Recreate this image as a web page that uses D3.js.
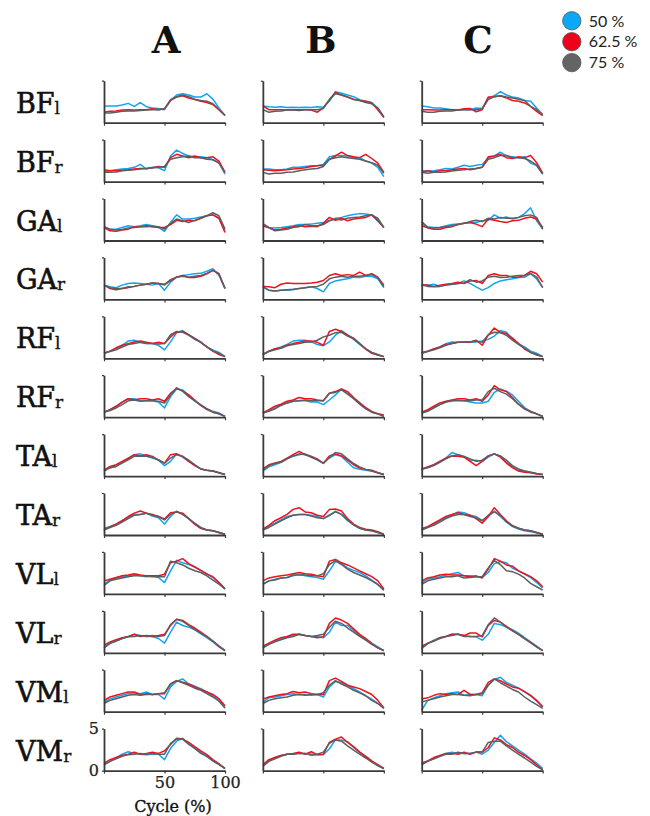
<!DOCTYPE html>
<html>
<head>
<meta charset="utf-8">
<script src="https://cdn.jsdelivr.net/npm/d3@7"></script>
<style>
  body { margin: 0; background: #fff; }
  svg { display: block; }
</style>
</head>
<body>
<svg class="chart"></svg>
<script>
// Gait cycle (%) sampled every 5 %
const cycle = d3.range(0, 101, 5);
const columns = ["A", "B", "C"];
const speeds = ["50 %", "62.5 %", "75 %"];
const muscles = [["BF", "l"], ["BF", "r"], ["GA", "l"], ["GA", "r"], ["RF", "l"], ["RF", "r"],
                 ["TA", "l"], ["TA", "r"], ["VL", "l"], ["VL", "r"], ["VM", "l"], ["VM", "r"]];
const yTicks = [0, 5];
const xTicks = [0, 50, 100];

// each muscle: columns A, B, C; each column: 50 %, 62.5 %, 75 %
const BFl = [
  [[2.0,2.0,2.0,2.1,2.3,1.95,2.4,1.9,1.75,1.7,1.55,2.65,3.3,3.45,3.3,3.05,3.05,3.45,2.8,1.75,0.85],
   [1.25,1.35,1.4,1.5,1.55,1.5,1.55,1.55,1.65,1.55,1.65,2.65,3.05,3.2,2.95,2.75,2.55,2.4,2.15,1.55,0.85],
   [1.15,1.15,1.25,1.35,1.4,1.4,1.45,1.5,1.55,1.55,1.65,2.75,3.1,3.3,3.1,2.8,2.65,2.55,2.25,1.55,0.85]],
  [[2.0,1.9,1.85,1.9,1.8,1.85,1.8,1.85,1.8,1.9,1.85,2.55,3.7,3.5,3.3,3.1,2.75,2.55,2.4,1.75,0.7],
   [2.0,1.55,1.55,1.55,1.5,1.55,1.55,1.55,1.5,1.25,1.75,2.75,3.6,3.3,3.05,2.8,2.65,2.55,2.35,1.55,0.6],
   [1.55,1.25,1.35,1.4,1.5,1.5,1.45,1.55,1.55,1.55,1.7,2.75,3.45,3.3,3.05,2.75,2.65,2.4,2.25,1.75,0.7]],
  [[2.0,1.9,1.75,1.75,1.65,1.55,1.55,1.55,1.55,1.75,1.7,2.95,3.2,3.7,3.3,3.05,2.95,2.65,2.55,1.75,0.95],
   [1.55,1.55,1.5,1.5,1.55,1.55,1.5,1.65,1.7,1.3,1.55,3.05,3.1,3.2,2.95,2.65,2.55,2.35,1.95,1.35,0.85],
   [1.35,1.25,1.25,1.35,1.4,1.4,1.5,1.55,1.55,1.55,1.65,2.75,3.1,3.2,3.05,2.95,2.8,2.65,1.95,1.55,0.95]]
];
const BFr = [
  [[1.1,1.3,1.4,1.5,1.55,1.7,2.05,1.5,1.7,1.65,1.3,3.05,3.75,3.35,3.05,2.95,2.95,2.85,2.6,2.25,0.9],
   [1.4,1.3,1.3,1.35,1.4,1.5,1.55,1.55,1.65,1.8,1.7,2.85,3.25,3.05,2.85,3.05,2.85,2.85,2.95,2.45,1.1],
   [1.1,1.1,1.15,1.3,1.35,1.4,1.5,1.55,1.65,1.7,1.8,2.65,2.85,2.95,3.05,2.85,2.85,2.65,2.6,2.2,1.1]],
  [[1.5,1.5,1.4,1.4,1.5,1.7,1.7,1.8,1.9,1.9,2.05,2.95,3.1,3.1,3.05,2.85,2.85,2.45,2.2,1.7,0.6],
   [1.4,1.35,1.3,1.35,1.4,1.5,1.55,1.65,1.8,1.9,1.95,2.65,3.05,3.5,3.1,2.95,2.85,3.25,2.75,2.2,1.1],
   [1.1,0.9,1.0,1.0,1.1,1.15,1.3,1.4,1.5,1.55,1.8,2.65,2.85,2.95,2.85,2.75,2.65,2.45,2.25,1.95,1.0]],
  [[1.3,1.25,1.3,1.4,1.55,1.5,1.7,1.95,1.8,1.95,2.05,2.85,3.05,3.5,3.05,2.95,2.85,2.95,2.2,1.9,0.9],
   [1.1,1.3,1.15,1.3,1.3,1.4,1.5,1.55,1.4,1.55,1.7,2.95,3.05,3.25,2.85,2.75,2.95,2.85,3.1,2.25,1.0],
   [1.1,1.0,1.1,1.1,1.15,1.25,1.35,1.4,1.5,1.55,1.7,2.65,2.85,3.1,3.1,2.85,2.85,2.75,2.45,1.95,0.9]]
];
const GAl = [
  [[1.55,1.35,1.35,1.55,1.75,1.65,1.75,1.9,1.75,1.55,1.1,2.15,3.05,2.55,2.55,2.65,2.8,2.95,3.05,2.65,1.15],
   [1.55,1.15,1.1,1.25,1.35,1.65,1.65,1.75,1.65,1.55,1.55,1.9,2.4,2.25,2.4,2.35,2.65,2.95,3.05,2.65,0.95],
   [1.65,1.35,1.25,1.3,1.5,1.55,1.65,1.65,1.7,1.65,1.35,2.05,2.55,2.35,2.15,2.4,2.65,2.95,3.3,2.95,1.35]],
  [[1.75,1.55,1.5,1.55,1.65,1.75,1.9,1.9,1.95,2.05,2.15,2.4,2.65,2.75,2.95,3.1,3.2,3.15,3.05,2.3,1.55],
   [1.75,1.5,1.25,1.35,1.5,1.65,1.75,1.65,1.7,1.65,2.05,2.75,2.4,2.65,2.35,2.55,2.65,2.75,3.05,2.4,1.55],
   [2.0,1.55,1.15,1.25,1.35,1.55,1.65,1.9,1.75,1.75,1.9,2.35,2.55,2.45,2.65,2.75,2.8,2.95,3.05,2.65,1.55]],
  [[1.95,1.65,1.55,1.55,1.75,1.9,1.95,2.05,2.15,2.15,2.35,2.4,3.05,2.65,2.8,2.55,2.75,3.2,3.9,2.35,1.35],
   [1.75,1.5,1.35,1.35,1.55,1.65,1.9,2.05,2.15,1.95,1.65,2.55,2.4,2.25,2.15,2.35,2.4,2.65,2.8,2.55,1.55],
   [2.25,1.55,1.5,1.55,1.65,1.75,1.9,2.05,2.25,2.4,2.25,2.65,2.55,2.75,2.65,2.65,2.75,2.95,3.05,2.75,1.35]]
];
const GAr = [
  [[1.7,1.5,1.4,1.7,1.9,1.95,1.9,1.8,1.7,1.9,1.1,2.05,2.65,2.85,2.95,3.05,3.1,3.35,3.65,2.85,1.3],
   [1.7,1.3,1.15,1.3,1.4,1.55,1.7,1.8,1.95,1.9,1.8,2.2,2.65,2.85,2.6,2.6,2.75,3.05,3.45,3.05,1.3],
   [1.7,1.4,1.3,1.3,1.5,1.55,1.7,1.8,1.95,1.9,1.7,2.35,2.65,2.75,2.65,2.75,2.85,3.1,3.45,3.05,1.3]],
  [[1.5,1.1,1.0,1.1,1.1,1.15,1.3,1.4,1.5,1.3,0.9,1.9,2.2,2.35,2.45,2.65,2.6,2.75,2.75,2.45,1.4],
   [1.55,1.5,1.4,1.8,1.95,1.9,1.9,1.9,1.95,2.05,2.25,2.85,3.05,2.85,2.95,2.85,3.25,2.85,3.05,2.65,1.7],
   [1.5,1.1,1.0,1.1,1.15,1.2,1.3,1.4,1.5,1.55,1.8,2.45,2.65,2.75,2.65,2.75,2.75,2.85,2.95,2.6,1.5]],
  [[1.7,1.7,1.8,1.55,1.7,1.8,1.9,2.2,1.9,1.5,1.1,1.4,1.9,2.2,2.35,2.45,2.6,2.65,3.05,2.45,1.4],
   [1.7,1.7,1.55,1.7,1.8,1.9,2.05,1.9,2.2,2.25,1.9,2.85,3.05,2.85,2.85,2.65,2.65,2.85,3.35,3.05,2.05],
   [1.7,1.55,1.5,1.55,1.7,1.8,1.9,1.95,2.35,2.05,2.2,2.65,2.75,2.6,2.65,2.75,2.85,2.85,3.1,2.65,1.4]]
];
const RFl = [
  [[0.6,0.85,1.15,1.55,2.05,2.15,1.9,1.75,1.75,1.55,1.0,1.95,3.05,3.3,2.8,2.4,1.95,1.35,1.0,0.7,0.2],
   [0.6,0.85,1.25,1.55,1.75,1.95,2.05,1.9,1.75,1.9,1.75,2.55,3.1,3.2,2.8,2.35,1.9,1.35,0.85,0.45,0.2],
   [0.6,0.8,1.0,1.35,1.65,1.75,1.9,1.75,1.75,1.7,1.75,2.8,3.2,3.1,2.75,2.25,1.9,1.35,0.85,0.6,0.2]],
  [[0.45,0.85,1.1,1.35,1.65,2.05,2.15,2.15,1.95,1.65,1.5,1.95,2.75,3.3,2.8,2.25,1.65,1.1,0.7,0.4,0.2],
   [0.45,0.85,1.15,1.25,1.55,1.75,1.9,2.05,2.05,1.9,1.55,3.2,3.45,3.2,2.75,2.4,1.75,1.1,0.6,0.4,0.2],
   [0.45,0.8,1.0,1.2,1.5,1.65,1.75,1.9,1.95,2.15,2.55,2.75,3.05,3.1,2.65,2.35,1.75,1.15,0.7,0.45,0.2]],
  [[0.6,0.85,1.1,1.35,1.75,1.95,1.9,1.95,1.9,1.95,2.05,2.25,2.65,3.3,3.1,2.25,1.75,1.35,0.85,0.6,0.2],
   [0.7,0.85,1.1,1.35,1.65,1.75,1.9,1.95,1.95,2.15,1.55,2.75,3.6,3.1,2.95,2.4,1.75,1.1,0.7,0.4,0.2],
   [0.6,0.8,1.0,1.25,1.55,1.75,1.9,1.95,1.95,2.05,1.9,2.8,3.1,3.05,2.75,2.15,1.65,1.2,0.7,0.45,0.2]]
];
const RFr = [
  [[0.6,0.9,1.3,1.8,2.2,2.2,1.95,1.95,1.95,1.8,1.1,2.45,3.35,3.25,2.6,1.95,1.5,1.0,0.7,0.5,0.1],
   [0.6,0.9,1.3,1.8,2.2,2.05,2.2,2.2,2.05,2.2,1.9,2.85,3.45,3.1,2.65,2.05,1.4,1.0,0.6,0.4,0.1],
   [0.6,0.8,1.1,1.5,1.95,2.05,1.9,1.95,1.95,1.9,1.7,2.6,3.5,3.1,2.45,1.95,1.4,0.9,0.6,0.4,0.1]],
  [[0.5,0.8,1.1,1.5,1.7,1.9,1.95,1.95,1.8,1.8,1.5,2.05,2.65,3.35,2.85,2.25,1.7,1.1,0.6,0.4,0.1],
   [0.5,0.9,1.3,1.55,1.9,2.05,2.35,2.2,2.2,2.05,1.95,2.85,3.05,3.35,3.05,2.35,1.7,1.15,0.7,0.4,0.25],
   [0.5,0.7,1.0,1.4,1.7,1.9,1.95,2.05,1.95,1.95,1.95,2.85,2.95,3.25,2.75,2.2,1.55,1.0,0.6,0.4,0.1]],
  [[0.5,0.8,1.1,1.5,1.8,1.95,2.05,1.95,1.8,1.7,1.7,1.9,2.95,3.35,3.1,2.65,1.9,1.15,0.7,0.4,0.1],
   [0.6,0.9,1.3,1.7,1.9,2.05,2.2,2.2,2.05,2.2,1.9,2.65,3.75,3.25,3.05,2.35,1.55,1.0,0.7,0.4,0.1],
   [0.5,0.7,1.1,1.5,1.8,1.95,1.95,1.95,1.95,2.05,2.05,3.05,3.45,3.05,2.75,2.2,1.55,1.0,0.6,0.4,0.1]]
];
const TAl = [
  [[0.6,1.0,1.15,1.65,2.05,2.55,2.65,2.4,2.15,1.9,1.25,1.75,2.65,2.25,1.75,1.35,0.85,0.7,0.6,0.4,0.2],
   [0.7,1.15,1.35,1.75,2.15,2.55,2.4,2.55,2.35,1.9,1.55,2.55,2.65,2.35,1.75,1.25,0.85,0.7,0.6,0.4,0.2],
   [0.6,1.0,1.15,1.55,1.95,2.35,2.4,2.35,2.25,1.95,1.55,2.15,2.55,2.35,1.9,1.35,0.85,0.7,0.6,0.4,0.2]],
  [[0.6,1.1,1.35,1.65,2.05,2.35,2.55,2.65,2.35,1.95,1.55,2.15,2.55,2.35,1.65,1.0,0.8,0.7,0.6,0.4,0.2],
   [0.85,1.35,1.55,1.75,2.15,2.55,2.95,2.55,2.35,2.05,1.5,2.4,2.65,2.4,1.9,1.35,0.95,0.8,0.7,0.4,0.2],
   [0.7,1.25,1.5,1.65,2.05,2.4,2.65,2.55,2.25,1.95,1.55,2.25,2.8,2.65,2.05,1.5,1.1,0.8,0.6,0.4,0.2]],
  [[0.8,1.1,1.35,1.75,2.15,2.8,2.55,2.35,1.9,1.9,1.75,2.25,2.65,2.35,1.65,1.1,0.7,0.6,0.45,0.3,0.2],
   [0.85,1.1,1.35,1.75,2.15,2.4,2.35,2.25,1.75,1.25,1.75,2.4,2.65,2.25,1.55,1.0,0.6,0.45,0.4,0.25,0.2],
   [0.8,1.0,1.25,1.65,2.05,2.4,2.55,2.35,2.05,1.75,1.9,2.4,2.65,2.4,1.9,1.25,0.85,0.6,0.45,0.3,0.2]]
];
const TAr = [
  [[0.8,1.0,1.3,1.7,2.05,2.45,2.45,2.6,2.25,2.05,1.3,2.2,2.85,2.45,1.95,1.3,0.8,0.6,0.5,0.3,0.1],
   [0.6,1.0,1.3,1.7,2.2,2.6,2.85,2.6,2.45,2.2,1.9,2.65,2.75,2.6,1.95,1.3,0.8,0.6,0.5,0.3,0.1],
   [0.6,0.9,1.15,1.55,1.95,2.35,2.45,2.6,2.35,2.2,1.8,2.45,2.75,2.45,1.95,1.4,0.9,0.6,0.5,0.3,0.1]],
  [[0.6,1.1,1.4,1.8,2.2,2.35,2.45,2.45,2.35,2.2,1.95,2.35,2.85,2.45,1.7,1.2,0.8,0.6,0.5,0.3,0.1],
   [0.7,1.15,1.7,2.05,2.45,3.05,3.25,2.75,2.65,2.35,2.2,3.05,3.1,2.85,1.95,1.3,0.9,0.7,0.6,0.4,0.1],
   [0.6,0.9,1.3,1.7,2.05,2.35,2.45,2.45,2.25,2.05,1.95,2.35,2.75,2.45,1.8,1.2,0.8,0.6,0.5,0.3,0.1]],
  [[0.8,1.0,1.3,1.7,2.05,2.35,2.75,2.65,2.35,2.2,1.7,2.2,2.85,2.2,1.55,1.0,0.7,0.5,0.4,0.25,0.1],
   [0.7,1.0,1.4,1.8,2.2,2.45,2.65,2.45,2.35,1.95,1.4,2.2,3.25,2.45,1.7,1.1,0.8,0.6,0.5,0.3,0.1],
   [0.6,0.9,1.15,1.55,1.95,2.25,2.45,2.45,2.2,2.05,1.7,2.35,2.75,2.35,1.55,1.1,0.8,0.6,0.5,0.3,0.1]]
];
const VLl = [
  [[1.15,1.65,1.9,2.05,2.15,2.25,2.15,2.05,2.15,1.95,1.35,2.75,4.0,3.7,3.5,3.2,2.8,2.4,1.95,1.35,0.6],
   [1.55,1.75,1.95,2.15,2.25,2.4,2.25,2.15,2.15,2.15,2.35,3.7,3.9,4.2,3.6,3.2,2.8,2.35,2.05,1.35,0.6],
   [1.0,1.55,1.75,1.9,2.05,2.15,2.15,2.1,2.05,2.05,2.05,3.9,3.7,3.45,3.05,2.75,2.55,2.15,1.65,1.15,0.6]],
  [[1.15,1.55,1.75,1.9,1.95,2.15,2.35,2.15,2.05,1.95,1.75,2.75,3.85,3.6,3.1,2.8,2.55,2.15,1.65,1.15,0.45],
   [1.55,1.9,2.05,2.15,2.25,2.4,2.55,2.4,2.35,2.15,2.05,3.9,4.1,3.7,3.45,3.1,2.75,2.4,2.05,1.55,0.6],
   [1.15,1.55,1.65,1.9,1.95,2.25,2.25,2.25,2.15,2.15,2.4,3.5,3.95,3.5,2.95,2.55,2.25,1.95,1.55,1.1,0.45]],
  [[1.35,1.75,1.9,2.05,2.25,2.4,2.55,2.15,2.15,2.05,1.95,2.55,3.6,3.85,3.7,3.05,2.75,2.35,1.95,1.35,0.7],
   [1.55,1.9,2.05,2.25,2.35,2.25,2.25,2.15,2.05,2.15,1.9,2.95,4.2,3.9,3.45,3.3,2.75,2.4,2.05,1.55,0.85],
   [1.15,1.55,1.75,1.9,2.05,2.05,2.15,1.9,1.95,2.05,2.05,3.1,3.95,3.5,2.75,2.65,2.35,1.9,1.25,0.85,0.45]]
];
const VLr = [
  [[0.6,1.1,1.4,1.7,1.9,2.2,2.05,1.95,1.95,1.7,1.15,2.45,3.65,3.25,3.05,2.75,2.25,1.8,1.3,0.7,0.25],
   [0.9,1.3,1.55,1.8,1.95,2.2,1.95,2.05,1.95,2.05,2.2,3.25,4.0,3.85,3.35,2.95,2.45,1.95,1.4,0.8,0.25],
   [0.6,1.15,1.4,1.7,1.9,1.95,2.05,1.95,2.05,1.95,2.05,3.35,4.0,3.75,3.25,2.75,2.35,1.9,1.4,0.8,0.25]],
  [[0.6,1.0,1.4,1.7,1.9,2.05,2.2,2.05,1.95,1.9,1.8,2.45,3.65,3.25,3.25,2.65,2.05,1.7,1.15,0.7,0.25],
   [0.8,1.15,1.5,1.8,1.95,2.2,2.2,2.05,1.95,1.8,1.9,3.5,4.15,3.9,3.5,2.85,2.2,1.7,1.1,0.6,0.25],
   [0.6,1.0,1.3,1.55,1.8,1.95,2.2,2.05,1.95,2.05,2.2,3.05,3.75,3.5,2.95,2.45,1.95,1.5,1.0,0.6,0.25]],
  [[0.5,1.1,1.5,1.8,1.95,2.2,2.2,2.05,1.95,1.9,1.5,2.2,3.5,3.35,3.05,2.75,2.35,1.8,1.3,0.8,0.25],
   [0.8,1.15,1.4,1.8,1.95,2.2,2.2,2.05,2.35,2.35,1.9,3.25,3.85,3.65,3.15,2.65,2.2,1.7,1.2,0.7,0.25],
   [0.6,1.1,1.4,1.7,1.95,2.05,2.2,1.95,1.95,1.95,2.05,3.35,4.15,3.65,3.05,2.6,2.2,1.7,1.2,0.7,0.25]]
];
const VMl = [
  [[1.15,1.5,1.75,1.95,2.15,2.25,2.15,2.35,2.05,2.05,1.5,2.95,3.6,3.9,3.3,3.05,2.75,2.35,1.9,1.35,0.45],
   [1.35,1.75,1.95,2.15,2.35,2.35,2.05,2.15,2.05,2.15,2.15,3.3,3.7,3.5,3.3,2.95,2.65,2.35,2.05,1.55,0.7],
   [0.98,1.35,1.55,1.75,1.95,2.05,1.95,2.05,2.05,2.15,2.25,3.3,3.7,3.45,3.15,2.8,2.55,2.15,1.75,1.25,0.45]],
  [[1.15,1.65,1.75,1.9,2.05,2.15,2.05,2.05,1.95,2.05,1.75,2.95,3.6,3.45,3.15,2.75,2.35,1.9,1.5,0.98,0.45],
   [1.5,1.75,1.9,2.05,2.15,2.4,2.25,2.35,2.15,2.05,2.05,3.7,4.0,3.6,3.15,2.95,2.75,2.4,2.05,1.35,0.45],
   [0.98,1.35,1.55,1.65,1.75,1.95,2.05,1.95,2.05,2.05,2.25,3.15,3.7,3.3,2.95,2.55,2.25,1.9,1.35,0.98,0.4]],
  [[0.2,1.35,1.65,1.9,2.15,2.25,2.35,1.95,2.05,2.05,1.9,3.15,3.85,4.1,3.5,3.15,2.8,2.35,1.9,1.25,0.6],
   [1.5,1.65,1.95,2.15,2.05,2.15,2.05,2.55,2.05,2.05,2.25,3.5,3.9,3.7,3.3,2.95,2.8,2.4,1.95,1.35,0.6],
   [1.15,1.35,1.55,1.75,1.9,2.05,2.05,1.95,1.9,2.05,2.15,3.15,3.9,3.45,3.05,2.65,2.35,1.75,1.25,0.85,0.4]]
];
const VMr = [
  [[0.7,1.1,1.55,1.95,2.25,2.05,1.95,1.9,1.95,1.95,1.3,2.65,3.5,3.85,3.15,2.65,2.2,1.7,1.15,0.8,0.25],
   [0.9,1.3,1.55,1.8,1.95,2.2,1.95,2.05,2.2,2.05,2.35,3.1,3.85,3.75,3.35,2.85,2.35,1.9,1.3,0.8,0.25],
   [0.7,1.1,1.4,1.7,1.9,1.95,2.05,1.95,2.05,1.95,1.95,3.25,3.75,3.75,3.15,2.65,2.05,1.7,1.15,0.7,0.25]],
  [[0.7,1.15,1.55,1.8,1.95,1.95,2.05,2.05,1.8,1.9,1.9,2.6,3.65,3.65,3.45,2.75,2.2,1.7,1.1,0.6,0.25],
   [0.7,1.3,1.55,1.8,1.95,2.05,2.2,1.95,2.25,1.9,1.95,3.35,3.75,4.0,3.35,2.85,2.2,1.7,1.15,0.7,0.25],
   [0.5,1.1,1.4,1.7,1.95,1.95,2.05,2.05,1.95,1.95,2.2,3.25,3.65,3.5,2.95,2.45,1.95,1.5,1.0,0.6,0.25]],
  [[0.8,1.15,1.4,1.7,2.05,2.2,2.05,2.05,2.05,2.2,1.95,2.45,3.35,4.2,3.45,2.95,2.45,1.95,1.4,0.9,0.25],
   [0.9,1.15,1.55,1.8,2.05,2.05,1.95,2.2,1.95,2.2,2.2,2.75,3.9,3.65,3.1,2.75,2.2,1.8,1.3,0.7,0.1],
   [0.7,1.1,1.4,1.7,1.95,1.95,2.2,2.05,2.05,2.2,2.2,3.35,3.5,3.5,2.95,2.45,1.95,1.5,1.0,0.5,0.1]]
];

const emg = [BFl, BFr, GAl, GAr, RFl, RFr, TAl, TAr, VLl, VLr, VMl, VMr];

function createChart() {
  const width = 650;
  const height = 816;
  const panelWidth = 121;
  const panelHeight = 42;
  const firstLeft = 104;
  const colStep = 158.85;
  const firstBottom = 122.7;
  const rowStep = 58.9;

  const color = d3.scaleOrdinal()
    .domain(speeds)
    .range(["#14a3f0", "#f2101c", "#5e5e5e"]);
  const legendFill = ["#0aa8f7", "#ef001b", "#646464"];

  const x = d3.scaleLinear().domain([0, 100]).range([0, panelWidth]);
  const y = d3.scaleLinear().domain([0, 5]).range([panelHeight, 0]);

  const svg = d3.select("svg.chart")
    .attr("width", width)
    .attr("height", height)
    .attr("viewBox", `0 0 ${width} ${height}`);

  svg.append("rect").attr("width", width).attr("height", height).attr("fill", "#fff");

  // Column headers
  const headerX = [166, 321, 478];
  svg.append("g")
    .style("font", "bold 37px 'DejaVu Serif', serif")
    .attr("text-anchor", "middle")
    .selectAll("text")
    .data(columns)
    .join("text")
    .attr("x", (d, i) => headerX[i])
    .attr("y", 53)
    .attr("fill", "#111")
    .text(d => d);

  // Legend
  const legend = svg.append("g")
    .selectAll("g")
    .data(speeds)
    .join("g")
    .attr("transform", (d, i) => `translate(571.8,${20.8 + 20.9 * i})`);
  legend.append("circle")
    .attr("r", 9.2)
    .attr("fill", (d, i) => legendFill[i])
    .attr("stroke", "#555")
    .attr("stroke-width", 0.8);
  legend.append("text")
    .attr("x", 17)
    .attr("dy", "0.36em")
    .style("font", "16px Lato, sans-serif")
    .attr("fill", "#222")
    .text(d => d);

  const line = d3.line()
    .x((d, i) => x(cycle[i]))
    .y(d => y(d));

  muscles.forEach(([name, side], r) => {
    const bottom = firstBottom + rowStep * r;
    const top = bottom - panelHeight;

    // Row label
    const label = svg.append("text")
      .attr("x", 16)
      .attr("y", bottom - 10)
      .attr("fill", "#111")
      .attr("stroke", "#111")
      .attr("stroke-width", 0.6)
      .style("font", "27px 'DejaVu Serif', serif");
    label.append("tspan").text(name);
    label.append("tspan").style("font-size", "17px").attr("dy", 1).attr("stroke-width", 0.3).text(side);

    columns.forEach((col, c) => {
      const left = firstLeft + colStep * c;
      const showLabels = r === muscles.length - 1 && c === 0;
      const g = svg.append("g").attr("transform", `translate(${left},${top})`);

      g.append("g")
        .attr("fill", "none")
        .attr("stroke-width", 1.5)
        .attr("stroke-linejoin", "round")
        .selectAll("path")
        .data(emg[r][c])
        .join("path")
        .attr("stroke", (d, i) => color(speeds[i]))
        .attr("d", line);

      const xAxis = g.append("g")
        .attr("transform", `translate(0,${panelHeight})`)
        .call(d3.axisBottom(x).tickValues(xTicks).tickSize(3).tickSizeOuter(0).tickPadding(3)
          .tickFormat(d => showLabels && d > 0 ? d : ""));
      const yAxis = g.append("g")
        .call(d3.axisLeft(y).tickValues(showLabels ? yTicks : [5]).tickSize(2).tickSizeOuter(0).tickPadding(3)
          .tickFormat(d => showLabels ? d : ""));

      [xAxis, yAxis].forEach(a => {
        a.select(".domain").attr("stroke", "#3a3a3a").attr("stroke-width", 1.8);
        a.selectAll(".tick line").attr("stroke", "#3a3a3a").attr("stroke-width", 1.2);
        a.selectAll(".tick text")
          .attr("fill", "#222")
          .attr("stroke", "#222")
          .attr("stroke-width", 0.25)
          .style("font", "16px 'DejaVu Serif', serif");
      });

      if (showLabels) {
        g.append("text")
          .attr("x", x(57))
          .attr("y", panelHeight + 41)
          .attr("text-anchor", "middle")
          .attr("fill", "#111")
          .attr("stroke", "#111")
          .attr("stroke-width", 0.35)
          .style("font", "16px 'DejaVu Serif', serif")
          .text("Cycle (%)");
      }
    });
  });
}

createChart();
</script>
</body>
</html>
